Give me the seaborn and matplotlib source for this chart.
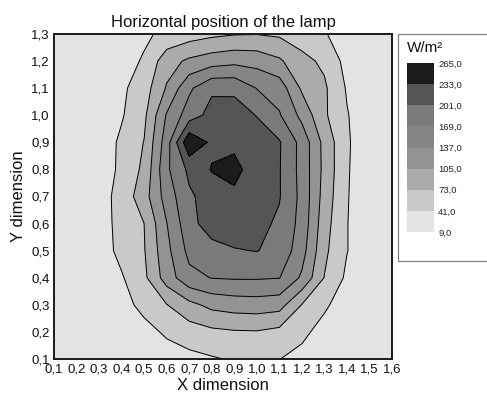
import numpy as np
import pandas as pd
import matplotlib
matplotlib.use("Agg")
import matplotlib.pyplot as plt
from matplotlib.patches import Rectangle
import seaborn as sns

# ---------------- data ----------------
x_positions = [0.1, 0.2, 0.3, 0.4, 0.5, 0.6, 0.7, 0.8, 0.9, 1.0, 1.1, 1.2, 1.3, 1.4, 1.5, 1.6]
y_positions = [0.1, 0.2, 0.3, 0.4, 0.5, 0.6, 0.7, 0.8, 0.9, 1.0, 1.1, 1.2, 1.3]

# irradiance (W/m2) per row, x from 0.1 to 1.6
irr_y010 = [9.5, 10, 12, 15, 20, 26, 32, 38, 44, 46, 41.5, 32, 22, 15, 11, 9.5]
irr_y020 = [9.5, 11, 14, 20, 30, 46, 58, 66, 70, 71, 64, 48, 30, 20, 13, 10]
irr_y030 = [10, 12, 17, 29, 51, 72, 96, 114, 120, 122, 118, 72, 46, 25, 15, 10]
irr_y040 = [10, 12, 22, 38, 66, 120, 160, 170, 172, 172, 170, 132, 72, 35, 18, 11]
irr_y050 = [10, 13, 25, 50, 71, 128, 178, 190, 199, 202, 192, 150, 80, 42, 20, 11]
irr_y060 = [10, 13, 26, 52, 73, 136, 191, 216, 218, 210, 196, 158, 86, 42, 20, 11]
irr_y070 = [10, 13, 28, 52, 92, 151, 196, 215, 225, 215, 203, 160, 92, 43, 20, 11]
irr_y080 = [9.5, 12, 22, 48, 80, 163, 208, 235, 245, 212, 203, 158, 96, 44, 20, 11]
irr_y090 = [9.5, 12, 22, 47, 74, 154, 260, 226, 224, 215, 204, 158, 95, 45, 20, 11]
irr_y100 = [10, 13, 21, 38, 66, 140, 185, 212, 214, 200, 172, 128, 78, 43, 20, 11]
irr_y110 = [11, 14, 20, 35, 58, 108, 163, 196, 195, 168, 155, 100, 78, 38, 19, 11]
irr_y120 = [11, 14, 19, 30, 44, 92, 111, 122, 128, 125, 110, 82, 67, 30, 16, 11]
irr_y130 = [10, 12, 16, 24, 36, 48, 58, 66, 71, 72, 68, 58, 43, 28, 16, 11]

levels = [9, 41, 73, 105, 137, 169, 201, 233, 265]
level_labels = ["9,0", "41,0", "73,0", "105,0", "137,0", "169,0", "201,0", "233,0", "265,0"]
band_colors = ["#e3e3e3", "#c9c9c9", "#ababab", "#939393", "#858585",
               "#7a7a7a", "#555555", "#1c1c1c"]

x_ticks = [0.1, 0.2, 0.3, 0.4, 0.5, 0.6, 0.7, 0.8, 0.9, 1.0, 1.1, 1.2, 1.3, 1.4, 1.5, 1.6]
x_tick_labels = ["0,1", "0,2", "0,3", "0,4", "0,5", "0,6", "0,7", "0,8",
                 "0,9", "1,0", "1,1", "1,2", "1,3", "1,4", "1,5", "1,6"]
y_ticks = [0.1, 0.2, 0.3, 0.4, 0.5, 0.6, 0.7, 0.8, 0.9, 1.0, 1.1, 1.2, 1.3]
y_tick_labels = ["0,1", "0,2", "0,3", "0,4", "0,5", "0,6", "0,7",
                 "0,8", "0,9", "1,0", "1,1", "1,2", "1,3"]

title_text = "Horizontal position of the lamp"
x_label = "X dimension"
y_label = "Y dimension"
unit_label = "W/m\u00b2"

# ---------------- style ----------------
sns.set_style("white")
plt.rcParams["font.family"] = ["Liberation Sans", "DejaVu Sans"]

rows = [irr_y010, irr_y020, irr_y030, irr_y040, irr_y050, irr_y060, irr_y070,
        irr_y080, irr_y090, irr_y100, irr_y110, irr_y120, irr_y130]
grid = pd.DataFrame(rows, index=y_positions, columns=x_positions)

W, H = 487, 398
fig = plt.figure(figsize=(W / 100, H / 100), dpi=100)
fig.patch.set_facecolor("white")

ax = fig.add_axes([54 / W, 1 - 359 / H, (392 - 54) / W, (359 - 34) / H])
X, Y = np.meshgrid(grid.columns.values, grid.index.values)
Z = grid.values
cf = ax.contourf(X, Y, Z, levels=levels, colors=band_colors)
ax.contour(X, Y, Z, levels=levels[1:-1], colors="black", linewidths=0.7)

ax.set_xlim(0.1, 1.6)
ax.set_ylim(0.1, 1.3)
ax.set_xticks(x_ticks)
ax.set_xticklabels(x_tick_labels)
ax.set_yticks(y_ticks)
ax.set_yticklabels(y_tick_labels)
ax.tick_params(axis="both", length=0, labelsize=9.5, colors="#111111", pad=3)
for s in ax.spines.values():
    s.set_visible(True)
    s.set_color("#1a1a1a")
    s.set_linewidth(1.4)
ax.set_title(title_text, fontsize=12, pad=5, color="#111111")
ax.set_xlabel(x_label, fontsize=12, labelpad=2, color="#111111")
ax.set_ylabel(y_label, fontsize=12, labelpad=4, color="#111111")

# legend box
box = Rectangle((398 / W, 1 - 261 / H), 100 / W, (261 - 34) / H,
                transform=fig.transFigure, facecolor="white",
                edgecolor="#808080", linewidth=0.9, zorder=-1)
fig.patches.append(box)
fig.text(407 / W, 1 - 48 / H, unit_label, fontsize=11, ha="left", va="center",
         color="#111111")

cax = fig.add_axes([407 / W, 1 - 232 / H, 27 / W, (232 - 63) / H])
cax.set_zorder(2)
cbar = fig.colorbar(cf, cax=cax)
cbar.outline.set_visible(False)
cbar.set_ticks(levels)
cbar.ax.set_yticklabels(level_labels)
cbar.ax.tick_params(length=0, labelsize=6.8, pad=3, colors="#222222")

fig.savefig("out.png", dpi=100)
